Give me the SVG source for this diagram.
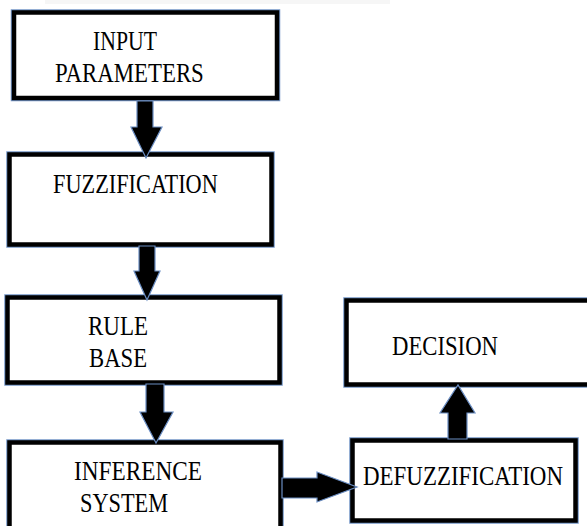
<svg xmlns="http://www.w3.org/2000/svg" width="587" height="526" viewBox="0 0 587 526">
<style>
.halo{fill:none;stroke:#7395c6;stroke-width:6.5}
.box{fill:#fff;stroke:#000;stroke-width:4.5}
.lbl{font-family:"Liberation Serif","Times New Roman",serif;font-size:28px;fill:#000}
.arr{fill:#000;stroke:#6a8dc2;stroke-width:1.2;stroke-linejoin:miter}
</style>
<rect x="0" y="0" width="587" height="526" fill="#fff"/>
<rect x="45" y="0" width="345" height="4" fill="#f6f6f6"/>
<g id="input">
<rect class="halo" x="14" y="12.5" width="263" height="85.5"/>
<rect class="box" x="14" y="12.5" width="263" height="85.5"/>
<text class="lbl" transform="translate(93,50) scale(0.8,1)" textLength="80" lengthAdjust="spacingAndGlyphs">INPUT</text>
<text class="lbl" transform="translate(55,82) scale(0.8,1)" textLength="186" lengthAdjust="spacingAndGlyphs">PARAMETERS</text>
</g>
<g id="fuzzification">
<rect class="halo" x="9.5" y="154.5" width="262" height="90"/>
<rect class="box" x="9.5" y="154.5" width="262" height="90"/>
<text class="lbl" transform="translate(53,193) scale(0.8,1)" textLength="206" lengthAdjust="spacingAndGlyphs">FUZZIFICATION</text>
</g>
<g id="rulebase">
<rect class="halo" x="7.5" y="297.5" width="272" height="85"/>
<rect class="box" x="7.5" y="297.5" width="272" height="85"/>
<text class="lbl" transform="translate(88,335) scale(0.8,1)" textLength="75" lengthAdjust="spacingAndGlyphs">RULE</text>
<text class="lbl" transform="translate(89,367) scale(0.8,1)" textLength="72.5" lengthAdjust="spacingAndGlyphs">BASE</text>
</g>
<g id="inference">
<rect class="halo" x="9.5" y="442.5" width="271" height="100"/>
<rect class="box" x="9.5" y="442.5" width="271" height="100"/>
<text class="lbl" transform="translate(74,480) scale(0.8,1)" textLength="160" lengthAdjust="spacingAndGlyphs">INFERENCE</text>
<text class="lbl" transform="translate(80,512) scale(0.8,1)" textLength="110" lengthAdjust="spacingAndGlyphs">SYSTEM</text>
</g>
<g id="defuzzification">
<rect class="halo" x="352.5" y="440.5" width="223" height="80"/>
<rect class="box" x="352.5" y="440.5" width="223" height="80"/>
<text class="lbl" transform="translate(363,485) scale(0.8,1)" textLength="250" lengthAdjust="spacingAndGlyphs">DEFUZZIFICATION</text>
</g>
<g id="decision">
<rect class="halo" x="346.5" y="300.5" width="260" height="84"/>
<rect class="box" x="346.5" y="300.5" width="260" height="84"/>
<text class="lbl" transform="translate(392,355) scale(0.8,1)" textLength="132.5" lengthAdjust="spacingAndGlyphs">DECISION</text>
</g>
<g id="connectors">
<polygon class="arr" points="137,101 153,101 153,127 162,127 146,158 131,127 137,127"/>
<polygon class="arr" points="139,246 155,246 155,271 160,271 147,300 134,271 139,271"/>
<polygon class="arr" points="146,384 164,384 164,412 173,412 156,443 140,412 146,412"/>
<polygon class="arr" points="282,478 317,478 317,472 357,487 317,502 317,498 282,498"/>
<polygon class="arr" points="448,439 448,413 440,413 458,385 475,413 467,413 467,439"/>
</g>
</svg>
